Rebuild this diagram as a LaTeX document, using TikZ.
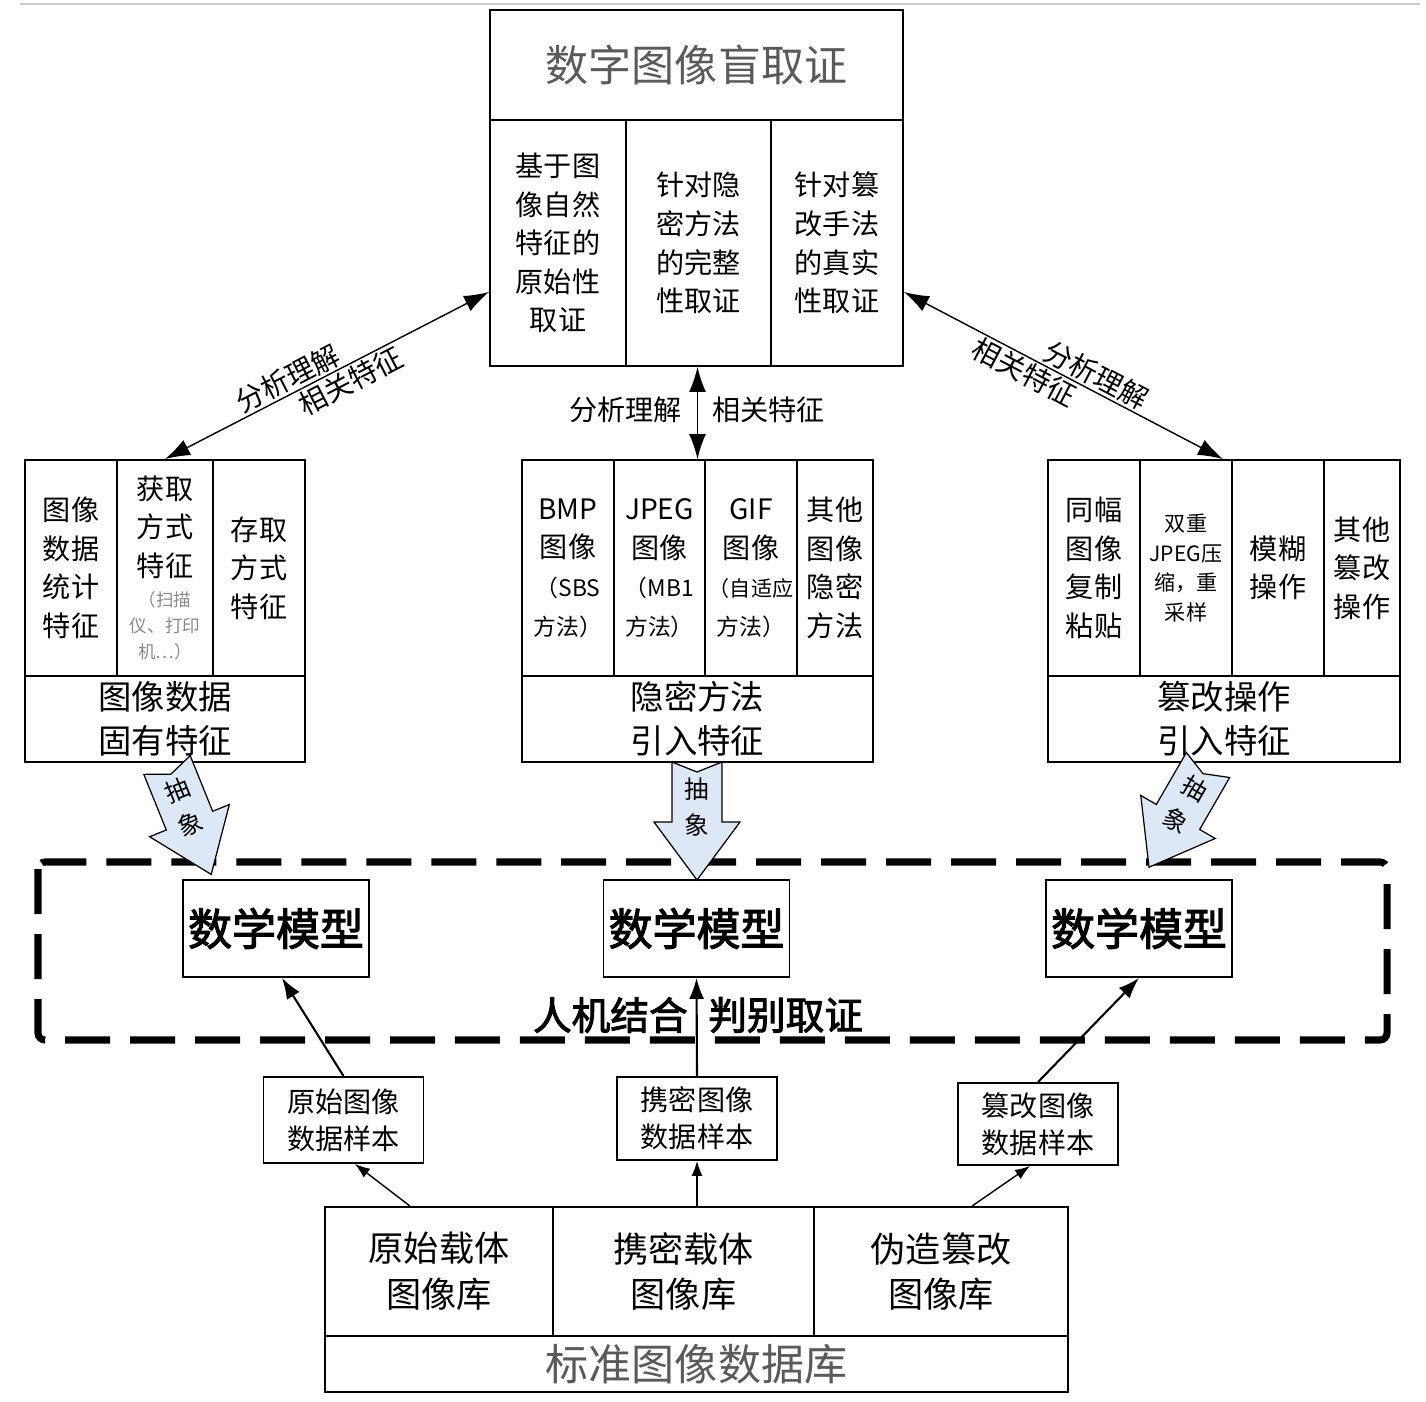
\documentclass[tikz,border=0pt]{standalone}
\usepackage{fontspec}
\setmainfont{Noto Sans CJK SC}[AutoFakeBold=2.5]
\usepackage{tikz}
\usetikzlibrary{arrows.meta}
\definecolor{titlegray}{HTML}{5A5A5A}
\definecolor{notegray}{HTML}{8A8A8A}
\definecolor{arrowblue}{HTML}{DDE7F6}
\newcommand{\notefont}{\fontsize{10}{13}\selectfont\color{notegray}}
\newcommand{\parenfont}{\fontsize{13}{22}\selectfont}
\tikzset{
  cell/.style={draw, line width=1.1pt, inner sep=0pt, align=center, font=\fontsize{16}{22}\selectfont},
  basecell/.style={cell, font=\fontsize{19}{25}\selectfont},
  titlecell/.style={cell, text=titlegray, font=\fontsize{24.5}{28}\selectfont},
  modelbox/.style={draw, line width=1.1pt, inner sep=0pt, minimum width=3.72cm, minimum height=1.94cm, font=\fontsize{25}{30}\selectfont\bfseries},
  samplebox/.style={draw, line width=1.1pt, inner sep=0pt, align=center, minimum width=3.2cm, font=\fontsize{16}{21}\selectfont},
  dbcell/.style={cell, font=\fontsize{20}{26}\selectfont},
  sidelabel/.style={inner sep=1pt, font=\fontsize{16}{20}\selectfont},
  jointlabel/.style={inner sep=0pt, font=\fontsize{22}{26}\selectfont\bfseries},
  bothway/.style={{Latex[length=0.5cm,width=0.34cm]}-{Latex[length=0.5cm,width=0.34cm]}, line width=0.8pt},
  linkarrow/.style={-{Latex[length=0.42cm,width=0.3cm]}, line width=1.2pt},
  thinarrow/.style={-{Latex[length=0.3cm,width=0.22cm]}, line width=0.8pt},
  blockarrow/.style={draw, fill=arrowblue, line width=0.7pt, line join=miter},
  arrowlabel/.style={inner sep=0pt, align=center, transform shape, font=\fontsize{14}{21}\selectfont},
  modelframe/.style={line width=4pt, dash pattern=on 0.9cm off 0.4cm, rounded corners=4pt}
}
\begin{document}
\begin{tikzpicture}[x=0.02cm, y=-0.02cm]
  \useasboundingbox (0,0) rectangle (1426,1402);
  \draw[gray!40, line width=1.1pt] (20,4) -- (1420,4);
  % top block
  \node[titlecell, minimum width=8.26cm, minimum height=2.2cm] (ttl) at (696.5,65) {数字图像盲取证};
  \node[cell, minimum width=2.72cm, minimum height=4.92cm] (tc1) at (558,243) {基于图\\像自然\\特征的\\原始性\\取证};
  \node[cell, minimum width=2.9cm, minimum height=4.92cm] (tc2) at (698.5,243) {针对隐\\密方法\\的完整\\性取证};
  \node[cell, minimum width=2.64cm, minimum height=4.92cm] (tc3) at (837,243) {针对篡\\改手法\\的真实\\性取证};
  % left block
  \node[cell, minimum width=1.84cm, minimum height=4.32cm] (lc1) at (71,568) {图像\\数据\\统计\\特征};
  \node[cell, minimum width=1.92cm, minimum height=4.32cm] (lc2) at (165,568) {获取\\方式\\特征\\[-5pt]\notefont（扫描\\[-7pt]\notefont 仪、打印\\[-7pt]\notefont 机…）};
  \node[cell, minimum width=1.84cm, minimum height=4.32cm] (lc3) at (259,568) {存取\\方式\\特征};
  \node[basecell, minimum width=5.6cm, minimum height=1.72cm] (lbase) at (165,719) {图像数据\\固有特征};
  % middle block
  \node[cell, minimum width=1.84cm, minimum height=4.32cm] (mc1) at (568,568) {BMP\\图像\\\parenfont（SBS\\\parenfont 方法）};
  \node[cell, minimum width=1.82cm, minimum height=4.32cm] (mc2) at (659.5,568) {JPEG\\图像\\\parenfont（MB1\\\parenfont 方法）};
  \node[cell, minimum width=1.84cm, minimum height=4.32cm] (mc3) at (751,568) {GIF\\图像\\\fontsize{12}{22}\selectfont（自适应\\\parenfont 方法）};
  \node[cell, minimum width=1.52cm, minimum height=4.32cm] (mc4) at (835,568) {其他\\图像\\隐密\\方法};
  \node[basecell, minimum width=7.02cm, minimum height=1.72cm] (mbase) at (697.5,719) {隐密方法\\引入特征};
  % right block
  \node[cell, minimum width=1.84cm, minimum height=4.32cm] (rc1) at (1094,568) {同幅\\图像\\复制\\粘贴};
  \node[cell, minimum width=1.84cm, minimum height=4.32cm, font=\fontsize{12}{17}\selectfont] (rc2) at (1186,568) {双重\\JPEG压\\缩，重\\采样};
  \node[cell, minimum width=1.84cm, minimum height=4.32cm] (rc3) at (1278,568) {模糊\\操作};
  \node[cell, minimum width=1.52cm, minimum height=4.32cm] (rc4) at (1362,568) {其他\\篡改\\操作};
  \node[basecell, minimum width=7.04cm, minimum height=1.72cm] (rbase) at (1224,719) {篡改操作\\引入特征};
  % links to the top block
  \draw[bothway] (lc2.north) -- node[sidelabel, sloped, above, pos=0.4] {分析理解} node[sidelabel, sloped, below, pos=0.55] {相关特征} ([yshift=-0.98cm]tc1.west);
  \draw[bothway] ([yshift=-0.98cm]tc3.east) -- node[sidelabel, sloped, above, pos=0.58] {分析理解} node[sidelabel, sloped, below, pos=0.4] {相关特征} ([xshift=-0.2cm]rc2.north east);
  \draw[bothway] (tc2.south -| mbase.north) -- (mbase.north |- mc2.north);
  \node[sidelabel, anchor=east] (midl) at (684,410) {分析理解};
  \node[sidelabel, anchor=west] (midr) at (710,410) {相关特征};
  % dashed frame and models
  \draw[modelframe] (38,862) rectangle (1387,1040);
  \node[modelbox] (mmL) at (276,928.5) {数学模型};
  \node[modelbox] (mmM) at (696.5,928.5) {数学模型};
  \node[modelbox] (mmR) at (1139,928.5) {数学模型};
  \node[jointlabel, anchor=east] (hjL) at (688,1015) {人机结合};
  \node[jointlabel, anchor=west] (hjR) at (708,1015) {判别取证};
  % block arrows
  \foreach \bx/\by/\ang/\nm in {167/765/22/baL, 697/762/0/baM, 1208/765/-30/baR}{
    \begin{scope}[shift={(\bx,\by)}, rotate=\ang]
      \draw[blockarrow] (-25,0) -- (0,10) -- (25,0) -- (25,60) -- (43,60) -- (0,118) -- (-43,60) -- (-25,60) -- cycle;
      \node[arrowlabel] (\nm) at (0,45) {抽\\象};
    \end{scope}
  }
  % samples and database
  \node[samplebox, minimum height=1.72cm] (smpL) at (343.5,1120) {原始图像\\数据样本};
  \node[samplebox, minimum height=1.66cm] (smpM) at (697,1118.5) {携密图像\\数据样本};
  \node[samplebox, minimum height=1.64cm] (smpR) at (1038,1124) {篡改图像\\数据样本};
  \node[dbcell, minimum width=4.56cm, minimum height=2.58cm] (dbL) at (439,1271.5) {原始载体\\图像库};
  \node[dbcell, minimum width=5.22cm, minimum height=2.58cm] (dbM) at (683.5,1271.5) {携密载体\\图像库};
  \node[dbcell, minimum width=5.08cm, minimum height=2.58cm] (dbR) at (941,1271.5) {伪造篡改\\图像库};
  \node[titlecell, minimum width=14.86cm, minimum height=1.12cm] (dbase) at (696.5,1364) {标准图像数据库};
  \draw[linkarrow] (smpL.north) -- ([xshift=0.12cm]mmL.south);
  \draw[linkarrow] (smpM.north) -- (mmM.south);
  \draw[linkarrow] (smpR.north) -- (mmR.south);
  \draw[thinarrow] ([xshift=-0.58cm]dbL.north) -- ([xshift=0.23cm]smpL.south);
  \draw[thinarrow] (dbM.north -| smpM.south) -- (smpM.south);
  \draw[thinarrow] ([xshift=0.62cm]dbR.north) -- ([xshift=-0.16cm]smpR.south);
\end{tikzpicture}
\end{document}
